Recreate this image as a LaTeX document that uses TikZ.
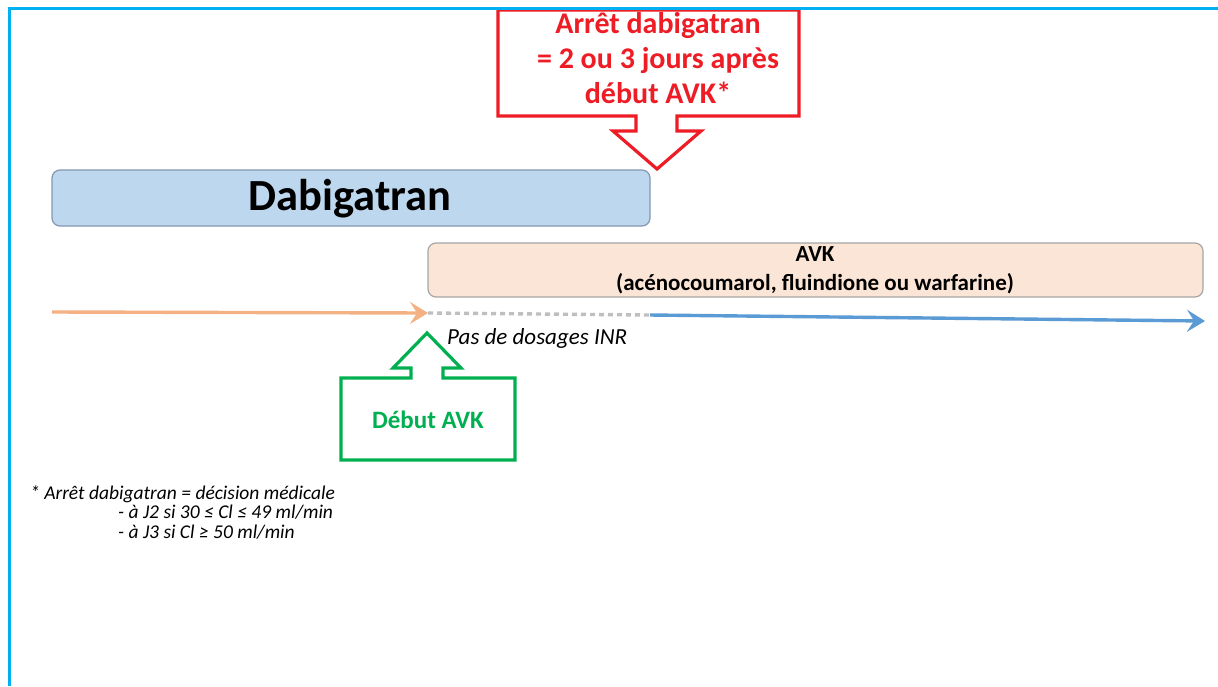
\documentclass[tikz,border=0pt]{standalone}
\usepackage{fontspec}
\setmainfont{Carlito}
\usetikzlibrary{arrows.meta}
\definecolor{frame}{HTML}{00B0F0}
\definecolor{redc}{HTML}{EE1C25}
\definecolor{greenc}{HTML}{00B050}
\definecolor{dabfill}{HTML}{BDD7EE}
\definecolor{dabdraw}{HTML}{8497B0}
\definecolor{avkfill}{HTML}{FBE5D6}
\definecolor{avkdraw}{HTML}{A6A6A6}
\definecolor{orangec}{HTML}{F4B183}
\definecolor{bluec}{HTML}{5B9BD5}
\definecolor{grayc}{HTML}{BFBFBF}
\tikzset{
  phasebox/.style={rounded corners=8pt, line width=1.2pt},
  callout/.style={line width=3.2pt, line join=miter, fill=white},
  timeline/.style={line width=3.4pt},
  tip/.style={-{Stealth[length=18pt,width=22pt,inset=7pt]}},
}
\begin{document}
\begin{tikzpicture}[x=1pt,y=-1pt]
\useasboundingbox (0,0) rectangle (1218,686);
\fill[white] (0,0) rectangle (1218,686);
% boxes
\draw[phasebox, fill=dabfill, draw=dabdraw] (52,170) rectangle (650,226);
\node[font=\fontsize{44.5}{50}\selectfont\bfseries] (dab) at (350,199) {Dabigatran};
\draw[phasebox, fill=avkfill, draw=avkdraw] (428,243) rectangle (1203,297);
\node[font=\fontsize{23}{29}\selectfont\bfseries, align=center] (avk) at (815,270) {AVK\\(acénocoumarol, fluindione ou warfarine)};
% red callout
\draw[callout, draw=redc] (498,10) -- (799,10) -- (799,116) -- (677,116) -- (677,131) -- (701,131) -- (657,169) -- (613,131) -- (636,131) -- (636,116) -- (498,116) -- cycle;
\node[font=\fontsize{30}{35}\selectfont\bfseries, text=redc, align=center] (stop) at (658,58) {Arrêt dabigatran\\= 2 ou 3 jours après\\début AVK*};
% timeline
\coordinate (o1) at (52,312);
\coordinate (o2) at (428,313);
\coordinate (g2) at (650,315);
\coordinate (b2) at (1205,321);
\draw[timeline, color=grayc, dash pattern=on 5pt off 4pt] (o2) -- (g2);
\draw[timeline, color=orangec, tip] (o1) -- (o2);
\draw[timeline, color=bluec, tip] (g2) -- (b2);
\node[font=\fontsize{23}{26}\selectfont\itshape, anchor=base west, inner sep=0pt] (inr) at (447,344) {Pas de dosages INR};
% green callout
\draw[callout, draw=greenc] (341,378) -- (411,378) -- (411,368) -- (393,368) -- (427,333) -- (461,368) -- (443,368) -- (443,378) -- (515,378) -- (515,460) -- (341,460) -- cycle;
\node[font=\fontsize{25}{28}\selectfont\bfseries, text=greenc] (start) at (428,420) {Début AVK};
% footnote
\node[font=\fontsize{19.5}{19.5}\selectfont\itshape, anchor=north west, align=left, inner sep=0pt] (note) at (30,485) {* Arrêt dabigatran = décision médicale\\\hspace*{88pt}- à J2 si 30 ≤ Cl ≤ 49 ml/min\\\hspace*{88pt}- à J3 si Cl ≥ 50 ml/min};
% frame
\draw[frame, line width=3pt] (9,686) -- (9,8) -- (1218,8);
\end{tikzpicture}
\end{document}
